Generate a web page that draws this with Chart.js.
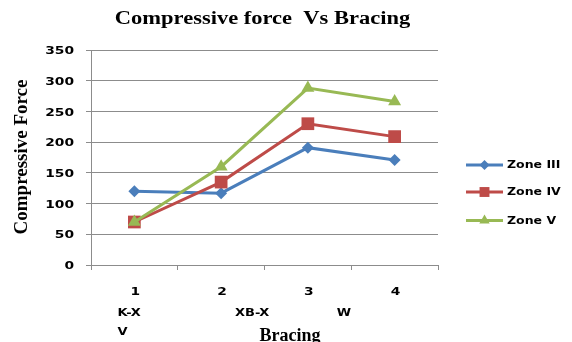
<!DOCTYPE html>
<html>
<head>
<meta charset="utf-8">
<script src="https://cdn.jsdelivr.net/npm/chart.js@4/dist/chart.umd.min.js"></script>
<style>
  html, body { margin: 0; padding: 0; background: #ffffff; }
  #wrap { width: 572px; height: 342px; position: relative; }
</style>
</head>
<body>
<div id="wrap"><canvas id="c" width="572" height="342"></canvas></div>
<script>
// ---- data ----
const categories = ['1', '2', '3', '4'];
const bracingNames = ['K-X', 'XB-X', 'W'];
const bracingExtra = 'V';
const seriesNames = ['Zone III', 'Zone IV', 'Zone V'];
const zone3 = [120, 117, 191, 171];
const zone4 = [70, 135, 230, 209];
const zone5 = [70, 160, 288, 266];
const yTicks = [0, 50, 100, 150, 200, 250, 300, 350];
const chartTitle = 'Compressive force  Vs Bracing';
const yTitle = 'Compressive Force';
const xTitle = 'Bracing';

// ---- styles ----
const colors = ['#4A7EBB', '#BE4B48', '#98B954'];
const shapes = ['rectRot', 'rect', 'triangle'];
const radii = [6, 9, 7.5];
const gridColor = '#8C8C8C';

function stretchedText(ctx, text, x, y, sx, font, align, baseline) {
  ctx.save();
  ctx.font = font;
  ctx.fillStyle = '#000';
  ctx.textAlign = align;
  ctx.textBaseline = baseline;
  ctx.translate(x, y);
  ctx.scale(sx, 1);
  ctx.fillText(text, 0, 0);
  ctx.restore();
}

function drawMarker(ctx, shape, x, y, r, color) {
  ctx.save();
  ctx.fillStyle = color;
  ctx.beginPath();
  if (shape === 'rectRot') {
    ctx.moveTo(x, y - r); ctx.lineTo(x + r, y); ctx.lineTo(x, y + r); ctx.lineTo(x - r, y);
  } else if (shape === 'rect') {
    const s = r * Math.SQRT1_2;
    ctx.rect(x - s, y - s, 2 * s, 2 * s);
  } else {
    ctx.moveTo(x, y - r);
    ctx.lineTo(x + r * Math.cos(Math.PI / 6), y + r / 2);
    ctx.lineTo(x - r * Math.cos(Math.PI / 6), y + r / 2);
  }
  ctx.closePath();
  ctx.fill();
  ctx.restore();
}

const textPlugin = {
  id: 'textPlugin',
  afterDraw(chart) {
    const ctx = chart.ctx;
    const ca = chart.chartArea;
    const xs = chart.scales.x, ys = chart.scales.y;
    // title
    stretchedText(ctx, chartTitle, (ca.left + ca.right) / 2 - 2, 24, 1.25,
      'bold 18px "Liberation Serif", "Times New Roman", serif', 'center', 'alphabetic');
    // y title
    ctx.save();
    ctx.translate(27, 157);
    ctx.rotate(-Math.PI / 2);
    ctx.font = 'bold 19px "Liberation Serif", "Times New Roman", serif';
    ctx.fillStyle = '#000';
    ctx.textAlign = 'center';
    ctx.textBaseline = 'alphabetic';
    ctx.fillText(yTitle, 0, 0);
    ctx.restore();
    // x title
    ctx.save();
    ctx.font = 'bold 18px "Liberation Serif", "Times New Roman", serif';
    ctx.fillStyle = '#000';
    ctx.textAlign = 'center';
    ctx.textBaseline = 'alphabetic';
    ctx.fillText(xTitle, 290, 341);
    ctx.restore();
    // y tick labels
    const tickFont = 'bold 10px "DejaVu Sans", Verdana, sans-serif';
    ys.ticks.forEach(t => {
      stretchedText(ctx, String(t.value), ca.left - 17, ys.getPixelForValue(t.value) + 1.5, 1.38,
        tickFont, 'right', 'middle');
    });
    // x tick labels
    categories.forEach((c, i) => {
      stretchedText(ctx, c, xs.getPixelForValue(i) + 1, 292.5, 1.38, tickFont, 'center', 'middle');
    });
    // bracing names
    const p0 = xs.getPixelForValue(0), p1 = xs.getPixelForValue(1), p2 = xs.getPixelForValue(2);
    stretchedText(ctx, bracingNames[0], p0 - 17, 313.5, 1.3, tickFont, 'left', 'middle');
    stretchedText(ctx, bracingNames[1], p1 + 31, 313.5, 1.3, tickFont, 'center', 'middle');
    stretchedText(ctx, bracingNames[2], p2 + 36, 313.5, 1.3, tickFont, 'center', 'middle');
    stretchedText(ctx, bracingExtra, p0 - 17, 332.5, 1.3, tickFont, 'left', 'middle');
    // legend
    const rowsY = [165, 192, 220.5];
    const legR = [5, 7, 6];
    seriesNames.forEach((n, i) => {
      const y = rowsY[i];
      ctx.save();
      ctx.strokeStyle = colors[i];
      ctx.lineWidth = 3;
      ctx.beginPath();
      ctx.moveTo(466, y); ctx.lineTo(503, y);
      ctx.stroke();
      ctx.restore();
      drawMarker(ctx, shapes[i], 484.5, y, legR[i], colors[i]);
      stretchedText(ctx, n, 507, y + 0.5, 1.25, 'bold 10px "DejaVu Sans", Verdana, sans-serif', 'left', 'middle');
    });
  }
};

const seriesData = [zone3, zone4, zone5];
const datasets = seriesNames.map((n, i) => ({
  label: n,
  data: seriesData[i],
  order: seriesNames.length - 1 - i,
  borderColor: colors[i],
  backgroundColor: colors[i],
  borderWidth: 3,
  pointStyle: shapes[i],
  pointRadius: radii[i],
  pointHoverRadius: radii[i],
  pointBorderWidth: 0,
  pointBackgroundColor: colors[i],
  tension: 0,
  fill: false
}));

new Chart(document.getElementById('c'), {
  type: 'line',
  data: { labels: categories, datasets: datasets },
  options: {
    responsive: false,
    animation: false,
    events: [],
    layout: { padding: { left: 91, right: 134, top: 50, bottom: 77 } },
    plugins: {
      legend: { display: false },
      title: { display: false },
      tooltip: { enabled: false }
    },
    scales: {
      x: {
        type: 'category',
        offset: true,
        afterFit(s) { s.height = 0; },
        ticks: { display: false },
        grid: {
          offset: true,
          drawOnChartArea: false,
          drawTicks: true,
          tickLength: 5,
          color: gridColor,
          lineWidth: 1
        },
        border: { display: true, color: gridColor, width: 1 }
      },
      y: {
        min: 0,
        max: 350,
        afterFit(s) { s.width = 0; },
        afterBuildTicks(s) { s.ticks = yTicks.map(v => ({ value: v })); },
        ticks: { display: false, stepSize: 50 },
        grid: {
          drawTicks: true,
          tickLength: 5,
          color: gridColor,
          lineWidth: 1
        },
        border: { display: true, color: gridColor, width: 1 }
      }
    }
  },
  plugins: [textPlugin]
});
</script>
</body>
</html>
